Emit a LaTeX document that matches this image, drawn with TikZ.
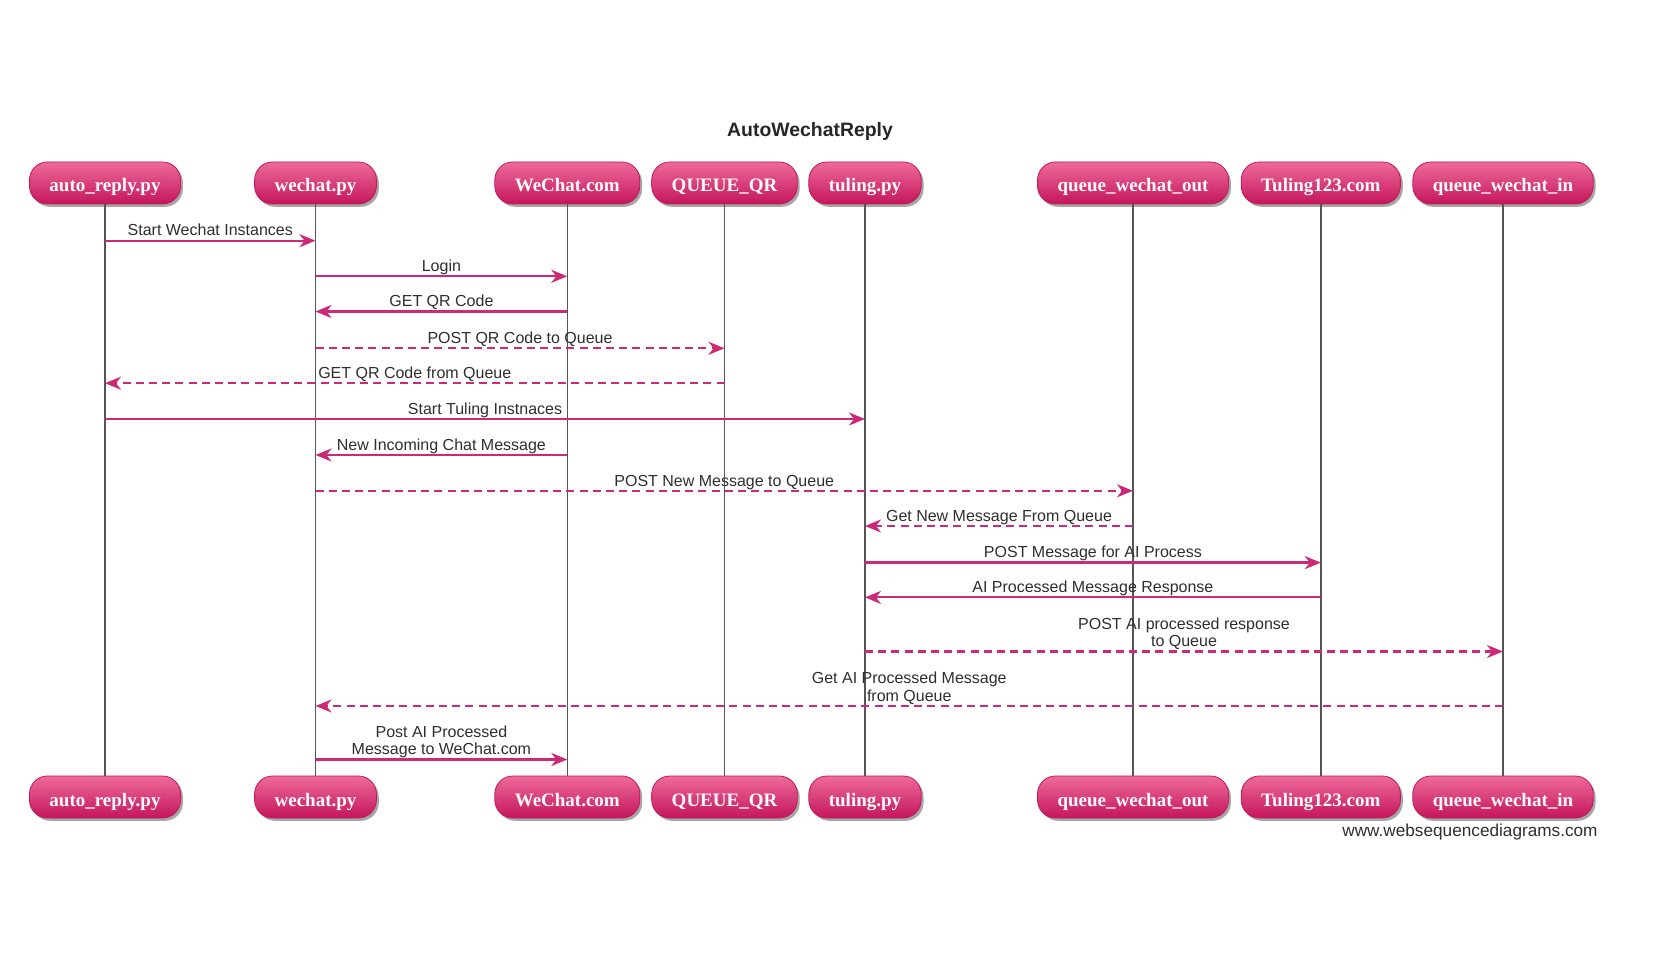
\documentclass[tikz,border=0pt]{standalone}
\usepackage{fontspec}
\setmainfont{Liberation Serif}
\setsansfont{Liberation Sans}
\usepackage{tikz}
\usetikzlibrary{arrows.meta, positioning, shadows}
\definecolor{wsdpink}{HTML}{CC2A76}
\definecolor{boxtop}{HTML}{EE6A9B}
\definecolor{boxbot}{HTML}{C4165C}
\definecolor{lifegray}{HTML}{555555}
\definecolor{textgray}{HTML}{2E2E2E}
\tikzset{
    actor/.style={
        rounded corners=9pt, draw=boxbot, line width=0.4pt,
        top color=boxtop, bottom color=boxbot,
        text=white!94!pink,
        font=\fontsize{9.5}{11}\selectfont\bfseries,
        inner xsep=10pt, inner ysep=0pt,
        text height=9pt, text depth=0pt,
        minimum height=21pt,
        drop shadow={shadow xshift=1.2pt, shadow yshift=-1.4pt,
            opacity=0.35, fill=black}
    },
    life/.style={draw=lifegray, line width=0.7pt},
    msg/.style={
        draw=wsdpink, line width=1.1pt,
        -{Stealth[length=8pt, width=6.5pt, inset=2.5pt]},
    },
    reply/.style={
        msg,
        dash pattern=on 4pt off 2.6pt
    },
    lbl/.style={
        font=\sffamily\fontsize{8}{8.75}\selectfont,
        text=textgray, align=center,
        anchor=south, inner sep=0pt, text depth=0pt,
        yshift=1.8pt, midway
    },
}

\begin{document}
\begin{tikzpicture}[x=0.5pt, y=-0.5pt]
    \useasboundingbox (0,0) rectangle (1655,967);

    % Title
    \node[font=\sffamily\fontsize{9.7}{11}\selectfont\bfseries, text=black!85] (title) at (810,131) {AutoWechatReply};

    % Participants, top and bottom
    \node[actor] (auto_t)   at (105,183)  {auto\_reply.py};
    \node[actor] (wechat_t) at (315.5,183) {wechat.py};
    \node[actor] (web_t)    at (567.3,183) {WeChat.com};
    \node[actor] (qr_t)     at (724.5,183) {QUEUE\_QR};
    \node[actor] (tuling_t) at (865,183)  {tuling.py};
    \node[actor] (qout_t)   at (1133,183) {queue\_wechat\_out};
    \node[actor] (api_t)    at (1320.8,183) {Tuling123.com};
    \node[actor] (qin_t)    at (1503,183) {queue\_wechat\_in};

    \node[actor] (auto_b)   at (105,797)  {auto\_reply.py};
    \node[actor] (wechat_b) at (315.5,797) {wechat.py};
    \node[actor] (web_b)    at (567.3,797) {WeChat.com};
    \node[actor] (qr_b)     at (724.5,797) {QUEUE\_QR};
    \node[actor] (tuling_b) at (865,797)  {tuling.py};
    \node[actor] (qout_b)   at (1133,797) {queue\_wechat\_out};
    \node[actor] (api_b)    at (1320.8,797) {Tuling123.com};
    \node[actor] (qin_b)    at (1503,797) {queue\_wechat\_in};

    % Lifelines
    \foreach \p in {auto, wechat, web, qr, tuling, qout, api, qin}
        \draw[life] (\p_t) -- (\p_b);

    % Message rows
    \coordinate (r1)  at (0,240.7);
    \coordinate (r2)  at (0,276.3);
    \coordinate (r3)  at (0,311.5);
    \coordinate (r4)  at (0,348.3);
    \coordinate (r5)  at (0,383.2);
    \coordinate (r6)  at (0,419);
    \coordinate (r7)  at (0,455);
    \coordinate (r8)  at (0,490.8);
    \coordinate (r9)  at (0,526);
    \coordinate (r10) at (0,562.6);
    \coordinate (r11) at (0,597.4);
    \coordinate (r12) at (0,651.5);
    \coordinate (r13) at (0,706);
    \coordinate (r14) at (0,759.5);

    % Messages
    \draw[msg]   (auto_t |- r1)   -- node[lbl] {Start Wechat Instances} (wechat_t |- r1);
    \draw[msg]   (wechat_t |- r2) -- node[lbl] {Login} (web_t |- r2);
    \draw[msg]   (web_t |- r3)    -- node[lbl] {GET QR Code} (wechat_t |- r3);
    \draw[reply] (wechat_t |- r4) -- node[lbl] {POST QR Code to Queue} (qr_t |- r4);
    \draw[reply] (qr_t |- r5)     -- node[lbl] {GET QR Code from Queue} (auto_t |- r5);
    \draw[msg]   (auto_t |- r6)   -- node[lbl] {Start Tuling Instnaces} (tuling_t |- r6);
    \draw[msg]   (web_t |- r7)    -- node[lbl] {New Incoming Chat Message} (wechat_t |- r7);
    \draw[reply] (wechat_t |- r8) -- node[lbl] {POST New Message to Queue} (qout_t |- r8);
    \draw[reply] (qout_t |- r9)   -- node[lbl] {Get New Message From Queue} (tuling_t |- r9);
    \draw[msg]   (tuling_t |- r10) -- node[lbl] {POST Message for AI Process} (api_t |- r10);
    \draw[msg]   (api_t |- r11)   -- node[lbl] {AI Processed Message Response} (tuling_t |- r11);
    \draw[reply] (tuling_t |- r12) -- node[lbl] {POST AI processed response\\to Queue} (qin_t |- r12);
    \draw[reply] (qin_t |- r13)   -- node[lbl] {Get AI Processed Message\\from Queue} (wechat_t |- r13);
    \draw[msg]   (wechat_t |- r14) -- node[lbl] {Post AI Processed\\Message to WeChat.com} (web_t |- r14);

    % Footer
    \node[font=\sffamily\fontsize{8.6}{10}\selectfont, text=textgray, anchor=base east, inner sep=0pt] (footer) at (1598,836) {www.websequencediagrams.com};
\end{tikzpicture}
\end{document}
